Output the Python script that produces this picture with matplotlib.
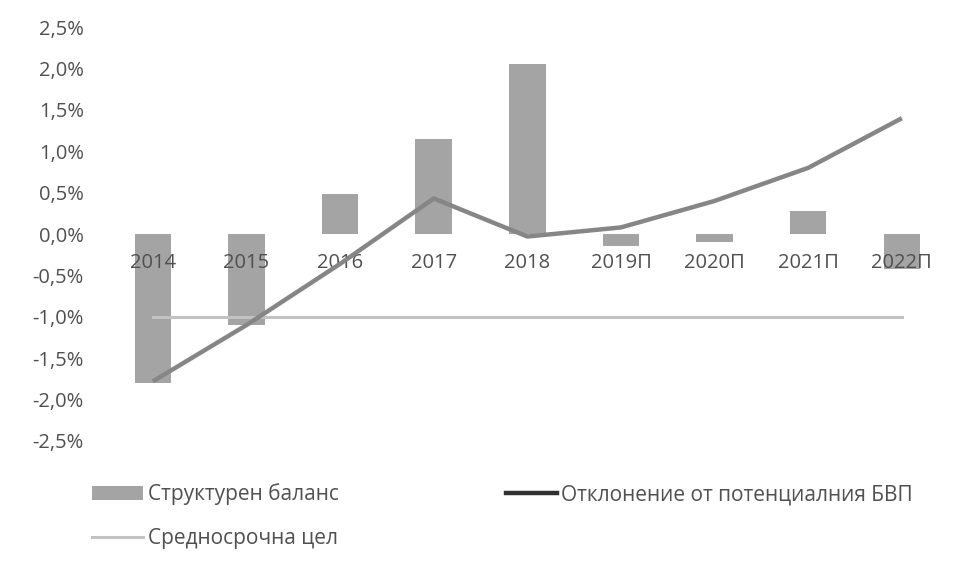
import numpy as np
import matplotlib
matplotlib.use("Agg")
import matplotlib.pyplot as plt
from matplotlib.lines import Line2D
from matplotlib.patches import Patch
from matplotlib.ticker import FuncFormatter

plt.rcParams['font.family'] = ['Open Sans', 'DejaVu Sans']

# данни
years = ['2014', '2015', '2016', '2017', '2018', '2019П', '2020П', '2021П', '2022П']
structural_balance = [-1.80, -1.10, 0.48, 1.15, 2.05, -0.15, -0.10, 0.28, -0.42]
output_gap = [-1.78, -1.10, -0.36, 0.43, -0.03, 0.08, 0.40, 0.80, 1.40]
mto = [-1.0, -1.0, -1.0, -1.0, -1.0, -1.0, -1.0, -1.0, -1.0]

text_color = '#505050'
bar_color = '#a4a4a4'
gap_color = '#868686'
mto_color = '#c2c2c2'

fig = plt.figure(figsize=(9.73, 5.66), dpi=100)
ax = fig.add_axes([0.109, 0.221, 0.866, 0.731])

x = np.arange(len(years))
ax.bar(x, structural_balance, width=0.39, color=bar_color, zorder=1)
ax.plot(x, mto, color=mto_color, lw=2.2, zorder=2)
ax.plot(x, output_gap, color=gap_color, lw=3.2, zorder=3, solid_capstyle='butt')

ax.set_xlim(-0.5, len(years) - 0.5)
ax.set_ylim(-2.5, 2.5)
ax.set_yticks(np.arange(-2.5, 2.51, 0.5))
ax.yaxis.set_major_formatter(FuncFormatter(lambda v, p: f'{v:.1f}%'.replace('.', ',').replace('-0,0', '0,0')))

# категориите стоят на нулевата линия
ax.spines['bottom'].set_position(('data', 0))
for s in ['top', 'right', 'left', 'bottom']:
    ax.spines[s].set_visible(False)
ax.set_xticks(x)
ax.set_xticklabels(years)
ax.tick_params(axis='x', length=0, pad=14, labelsize=14.5, labelcolor=text_color)
ax.tick_params(axis='y', length=0, pad=16, labelsize=14.5, labelcolor=text_color)
for lbl in ax.get_xticklabels():
    lbl.set_zorder(5)

handles = [Patch(facecolor=bar_color, edgecolor='none'),
           Line2D([0], [0], color=mto_color, lw=2.2),
           Line2D([0], [0], color='#303030', lw=3.2)]
labels = ['Структурен баланс', 'Средносрочна цел', 'Отклонение от потенциалния БВП']
fig.legend(handles, labels, ncol=2, loc='upper left', bbox_to_anchor=(0.0843, 0.164),
           frameon=False, fontsize=15, labelcolor=text_color, handlelength=2.45,
           handletextpad=0.2, columnspacing=8.05, labelspacing=1.1, borderpad=0)

fig.savefig('out.png', dpi=100, facecolor='white')
